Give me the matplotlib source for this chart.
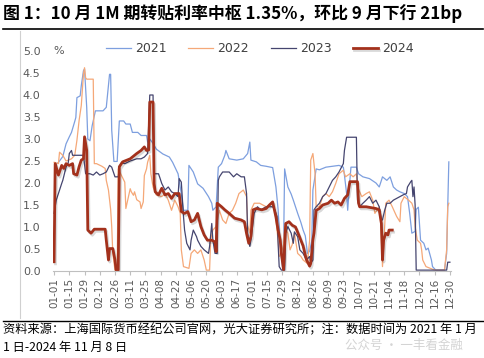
"""
1M discount rate (转贴现利率) by calendar day, 2021-2024, one line per year.
Values read off the published chart; x = day index counted from Jan 1.
"""
import matplotlib
matplotlib.use("Agg")
import matplotlib.pyplot as plt
import matplotlib.patheffects as pe
from matplotlib.lines import Line2D

plt.rcParams["font.family"] = ["Noto Sans CJK SC", "DejaVu Sans"]

TICK_DAYS = [14 * i for i in range(27)]
TICK_LABELS = ["01-01", "01-15", "01-29", "02-12", "02-26", "03-11", "03-25",
               "04-08", "04-22", "05-06", "05-20", "06-03", "06-17", "07-01",
               "07-15", "07-29", "08-12", "08-26", "09-09", "09-23", "10-07",
               "10-21", "11-04", "11-18", "12-02", "12-16", "12-30"]
Y_TICKS = [0.0, 0.5, 1.0, 1.5, 2.0, 2.5, 3.0, 3.5, 4.0, 4.5, 5.0]

day_2021 = [1, 4, 8, 11, 14, 16, 19, 20, 21, 24, 25, 27, 28, 30, 31, 33, 35, 38, 45, 48,
            51, 52, 53, 55, 58, 60, 64, 66, 70, 72, 77, 80, 85, 86, 88, 91, 94, 100, 106, 109,
            114, 117, 119, 123, 124, 128, 132, 137, 142, 145, 146, 149, 151, 154, 157, 158, 161, 168, 174, 178,
            180, 181, 186, 190, 195, 201, 204, 206, 208, 210, 211, 212, 215, 218, 220, 224, 227, 229, 231, 233,
            235, 237, 238, 241, 244, 250, 256, 262, 266, 267, 269, 270, 272, 273, 278, 280, 284, 290, 296, 299,
            301, 302, 306, 309, 312, 315, 318, 322, 325, 327, 329, 332, 333, 335, 337, 340, 342, 344, 347, 348,
            351, 359, 361, 362, 363]
rate_2021 = [2.40, 2.47, 2.60, 2.89, 3.05, 3.15, 3.40, 3.49, 3.94, 3.98, 4.21, 4.55, 4.59, 3.72, 3.00, 2.96, 3.30, 3.64, 3.64, 3.72,
             4.47, 4.47, 3.20, 2.49, 2.49, 3.41, 3.41, 3.34, 3.34, 3.15, 3.15, 3.08, 3.08, 2.93, 3.00, 2.90, 2.77, 2.66, 2.59, 2.47,
             2.21, 1.76, 1.38, 1.38, 2.40, 2.25, 1.98, 1.88, 1.69, 1.54, 1.38, 1.46, 2.36, 2.44, 2.63, 2.74, 2.55, 2.52, 2.55, 2.67,
             2.93, 2.52, 2.48, 2.40, 2.38, 2.35, 1.91, 1.40, 0.55, 0.10, 0.50, 2.32, 1.91, 1.75, 1.61, 1.31, 1.10, 0.93, 0.80, 0.40,
             0.45, 0.70, 1.84, 2.32, 2.30, 2.36, 2.38, 2.40, 2.36, 2.18, 1.76, 1.38, 2.06, 2.36, 2.36, 2.21, 2.14, 2.10, 2.00, 1.91,
             2.06, 2.14, 2.06, 2.14, 1.91, 1.84, 1.80, 1.76, 1.69, 1.31, 0.86, 0.90, 1.40, 1.45, 0.70, 0.63, 0.48, 0.52, 0.25, 0.10,
             0.02, 0.02, 0.40, 1.46, 2.48]

day_2022 = [0, 4, 5, 8, 11, 16, 19, 21, 23, 25, 27, 28, 29, 30, 36, 37, 39, 44, 47, 48,
            50, 52, 53, 54, 56, 58, 59, 62, 65, 66, 68, 70, 71, 73, 74, 76, 79, 80, 82, 83,
            85, 86, 88, 89, 91, 94, 99, 102, 105, 108, 111, 114, 116, 117, 119, 124, 126, 129, 132, 135,
            138, 140, 143, 144, 146, 149, 152, 155, 158, 161, 164, 167, 170, 174, 177, 178, 180, 181, 184, 189,
            195, 201, 203, 206, 207, 209, 211, 212, 215, 217, 219, 221, 224, 227, 229, 233, 235, 236, 238, 240,
            241, 244, 247, 250, 253, 256, 259, 262, 266, 268, 272, 275, 278, 279, 283, 287, 290, 293, 295, 299,
            300, 301, 302, 304, 305, 308, 311, 315, 318, 319, 322, 326, 329, 331, 332, 334, 337, 338, 339, 342,
            346, 349, 351, 359, 361, 362, 363]
rate_2022 = [2.47, 2.44, 2.70, 2.63, 2.50, 2.55, 2.63, 2.97, 3.42, 3.76, 4.47, 4.62, 4.39, 4.36, 4.36, 2.44, 2.44, 2.38, 2.33, 2.06,
             1.84, 1.40, 1.01, 0.40, 0.02, 0.02, 2.32, 2.17, 2.02, 1.42, 1.65, 1.87, 1.80, 1.72, 1.80, 1.62, 1.57, 1.42, 1.57, 2.17,
             2.32, 2.47, 2.63, 2.21, 1.91, 1.73, 1.69, 1.76, 1.61, 1.38, 1.61, 1.46, 1.31, 0.48, 0.10, 0.06, 0.40, 0.48, 0.40, 0.48,
             0.25, 0.02, 0.02, 0.70, 0.93, 1.01, 1.38, 1.16, 1.08, 1.31, 1.38, 1.54, 1.76, 1.84, 1.69, 1.04, 0.86, 1.38, 1.54, 1.54,
             1.46, 1.54, 1.38, 0.70, 0.33, 0.40, 0.60, 1.01, 0.86, 0.48, 0.60, 0.86, 0.40, 0.33, 0.25, 0.17, 0.70, 2.52, 2.67, 2.21,
             1.46, 1.46, 1.69, 1.76, 1.69, 1.80, 1.99, 2.21, 2.29, 2.14, 2.21, 2.14, 2.21, 1.91, 1.69, 1.76, 1.80, 1.61, 1.31, 1.46,
             1.24, 0.70, 0.10, 1.01, 1.54, 1.61, 1.46, 1.24, 1.12, 1.54, 1.69, 1.61, 1.54, 1.39, 1.01, 0.70, 0.63, 0.48, 0.25, 0.10,
             0.06, 0.03, 0.02, 0.02, 0.48, 1.46, 1.54]

day_2023 = [0, 2, 5, 7, 8, 11, 13, 14, 16, 17, 27, 29, 33, 36, 39, 42, 45, 48, 51, 53,
            56, 59, 60, 62, 65, 70, 76, 80, 83, 86, 88, 91, 92, 96, 97, 99, 102, 105, 108, 111,
            114, 115, 117, 119, 120, 122, 125, 126, 128, 131, 132, 135, 138, 142, 143, 145, 146, 148, 150, 151,
            152, 155, 161, 165, 168, 172, 175, 177, 178, 180, 181, 184, 187, 190, 195, 201, 203, 205, 206, 207,
            209, 212, 213, 215, 218, 220, 221, 224, 226, 229, 232, 235, 236, 238, 239, 241, 244, 247, 250, 253,
            256, 259, 262, 266, 267, 269, 278, 279, 281, 284, 287, 290, 293, 296, 299, 301, 302, 304, 306, 309,
            312, 315, 318, 321, 324, 325, 327, 328, 329, 330, 331, 332, 333, 361, 362, 364]
rate_2023 = [1.31, 1.61, 1.84, 1.99, 2.06, 2.36, 2.46, 2.67, 2.74, 2.63, 2.63, 2.21, 2.21, 2.18, 2.25, 2.18, 2.21, 2.25, 2.40, 2.36,
             2.14, 2.14, 2.36, 2.46, 2.44, 2.50, 2.55, 2.55, 2.59, 2.67, 4.00, 4.00, 2.21, 2.21, 2.14, 1.99, 1.84, 1.91, 1.80, 1.76,
             1.69, 2.10, 2.02, 1.24, 0.93, 0.63, 0.48, 0.70, 0.93, 0.78, 0.70, 0.56, 0.48, 0.40, 0.56, 1.08, 0.70, 0.40, 0.40, 2.06,
             2.14, 2.25, 2.25, 2.14, 2.21, 2.14, 2.14, 1.76, 0.86, 0.56, 0.70, 1.31, 1.46, 1.39, 1.46, 1.46, 1.39, 1.24, 0.63, 0.10,
             0.02, 0.02, 0.86, 1.01, 0.86, 0.63, 0.89, 0.78, 0.48, 0.40, 0.25, 0.33, 0.17, 0.25, 1.39, 1.46, 1.54, 1.69, 1.76, 1.91,
             2.06, 2.14, 2.25, 2.44, 2.74, 3.04, 3.04, 1.61, 1.46, 1.54, 1.61, 1.69, 1.54, 1.61, 1.46, 1.16, 1.16, 1.38, 1.54, 1.54,
             1.61, 1.65, 1.69, 1.73, 1.76, 1.91, 1.99, 2.03, 2.06, 1.69, 1.91, 1.50, 0.02, 0.02, 0.20, 0.20]

day_2024 = [0, 1, 4, 7, 9, 11, 14, 17, 18, 21, 23, 25, 27, 28, 30, 31, 34, 37, 47, 48,
            50, 51, 54, 56, 57, 59, 60, 63, 70, 76, 80, 83, 85, 87, 88, 91, 92, 93, 96, 99,
            102, 105, 108, 111, 115, 117, 120, 123, 126, 129, 132, 135, 138, 141, 145, 148, 149, 150, 154, 157,
            161, 166, 172, 175, 177, 179, 181, 183, 186, 191, 195, 198, 201, 204, 206, 208, 209, 211, 213, 216,
            219, 222, 225, 229, 232, 235, 236, 238, 239, 241, 244, 247, 252, 255, 258, 261, 264, 267, 270, 272,
            279, 280, 281, 287, 296, 299, 301, 302, 303, 305, 307, 308, 311]
rate_2024 = [0.21, 2.44, 2.18, 2.40, 2.33, 2.44, 2.40, 2.44, 2.21, 2.18, 2.37, 2.52, 2.55, 3.05, 2.74, 0.93, 0.86, 0.95, 0.95, 0.70,
             0.25, 0.51, 0.51, 0.25, 0.02, 0.02, 2.37, 2.48, 2.55, 2.67, 2.74, 2.82, 2.74, 2.75, 3.84, 3.84, 1.99, 1.80, 1.73, 1.88,
             1.73, 1.76, 1.65, 1.76, 1.76, 1.35, 1.31, 1.35, 1.12, 1.16, 1.31, 1.01, 0.82, 0.70, 0.70, 0.66, 0.44, 1.54, 1.46, 1.39,
             1.31, 1.20, 1.16, 1.12, 0.85, 0.63, 0.78, 1.39, 1.42, 1.39, 1.42, 1.50, 1.57, 1.23, 0.93, 0.70, 0.40, 0.03, 1.08, 1.12,
             1.04, 1.00, 0.82, 0.57, 0.26, 0.11, 0.17, 0.71, 0.86, 1.38, 1.42, 1.50, 1.54, 1.61, 1.54, 1.57, 1.50, 1.65, 1.73, 2.03,
             2.03, 1.54, 1.46, 1.46, 1.42, 1.39, 1.08, 0.25, 0.70, 0.86, 0.82, 0.93, 0.93]

TITLE = "图 1：10 月 1M 期转贴利率中枢 1.35%，环比 9 月下行 21bp"
SOURCE_1 = "资料来源：上海国际货币经纪公司官网，光大证券研究所；注：数据时间为 2021 年 1 月"
SOURCE_2 = "1 日-2024 年 11 月 8 日"

W, H = 485, 358
fig = plt.figure(figsize=(W / 100, H / 100), dpi=100)
ax = fig.add_axes([53 / W, 1 - 271 / H, 398 / W, 220 / H])

ax.plot(day_2021, rate_2021, color="#7d9fdf", lw=0.9, label="2021")
ax.plot(day_2022, rate_2022, color="#f5a878", lw=0.9, label="2022")
ax.plot(day_2023, rate_2023, color="#45456f", lw=0.9, label="2023")
ax.plot(day_2024, rate_2024, color="#a3311c", lw=2.0, label="2024",
        path_effects=[pe.SimpleLineShadow(offset=(1, -1.5), alpha=0.15), pe.Normal()])

ax.set_xlim(-1, 365)
ax.set_ylim(0, 5)
ax.set_xticks(TICK_DAYS)
ax.set_xticklabels(TICK_LABELS, rotation=90, fontsize=7.5, color="#595959",
                   family=["DejaVu Sans"])
ax.set_yticks(Y_TICKS)
ax.set_yticklabels([f"{v:.1f}" for v in Y_TICKS], fontsize=8, color="#595959",
                   family=["DejaVu Sans"])
ax.tick_params(axis="y", length=0, pad=9)
ax.tick_params(axis="x", length=3, color="#bfbfbf", pad=2)
for side in ["top", "right", "left"]:
    ax.spines[side].set_visible(False)
ax.spines["bottom"].set_color("#bfbfbf")
ax.text(0.0, 1.0, "%", transform=ax.transAxes, fontsize=8, color="#595959",
        family=["DejaVu Sans"], va="center", ha="left")

fig.legend(loc="upper left", bbox_to_anchor=(106 / W, 1 - 42 / H), ncol=4,
           frameon=False, borderpad=0, borderaxespad=0,
           handlelength=2.0, handletextpad=0.35, columnspacing=1.7,
           labelcolor="#404040", prop={"family": ["DejaVu Sans"], "size": 9})

fig.text(3 / W, 1 - 14 / H, TITLE, fontsize=12.2, fontweight="bold", va="center", ha="left")
fig.add_artist(Line2D([3 / W, 483 / W], [1 - 29 / H] * 2, color="black", lw=1.2))
fig.add_artist(Line2D([20 / W, 20 / W], [1 - 31 / H, 1 - 318 / H], color="#d0d0d0", lw=0.8))
fig.add_artist(Line2D([3 / W, 483 / W], [1 - 321 / H] * 2, color="black", lw=1.0))
fig.text(3 / W, 1 - 330 / H, SOURCE_1, fontsize=8.8, va="center", ha="left")
fig.text(3 / W, 1 - 347 / H, SOURCE_2, fontsize=8.8, va="center", ha="left")
fig.text(345 / W, 1 - 345 / H, "公众号 · 一丰看金融", fontsize=9, color="#d4d4d4",
         va="center", ha="left", zorder=0)

fig.savefig("out.png", dpi=100)
